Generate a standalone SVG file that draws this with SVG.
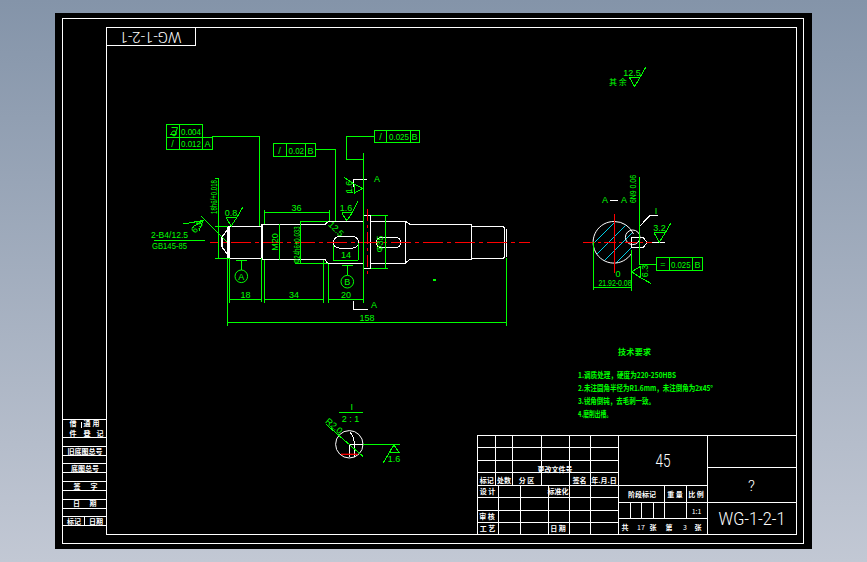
<svg xmlns="http://www.w3.org/2000/svg" width="867" height="562" viewBox="0 0 867 562">
<style>
text{font-family:"Liberation Sans","Noto Sans CJK SC",sans-serif}
.g{stroke:#00ff00;fill:none;stroke-width:1;shape-rendering:crispEdges}
.w{stroke:#fff;fill:none;stroke-width:1.2;shape-rendering:crispEdges}
.f{stroke:#fff;fill:none;stroke-width:1;shape-rendering:crispEdges}
.r{stroke:#ff0000;fill:none;stroke-width:1.5;stroke-dasharray:20 4 4 4;shape-rendering:crispEdges}
.h{stroke:#00e5ff;stroke-width:.9}
.t{fill:#00ff00;font-size:9px;text-anchor:middle}
.tl{fill:#00ff00;font-size:9px}
.c{fill:#00ff00;font-size:8px;font-family:"Noto Sans CJK SC",sans-serif;font-weight:700}
.k{fill:#fff;font-size:7px;font-family:"Noto Sans CJK SC",sans-serif;font-weight:700;text-anchor:middle}
.b{fill:#fff;font-family:Roboto,"Liberation Sans",sans-serif;font-weight:300;text-anchor:middle}
</style>
<defs>
<linearGradient id="bg" x1="0" y1="0" x2="0" y2="1"><stop offset="0" stop-color="#8494a9"/><stop offset="1" stop-color="#c2c8d4"/></linearGradient>
<clipPath id="sec"><path d="M614.3 221.5a20.8 20.8 0 1 0 0 41.6a20.8 20.8 0 0 0 17-9.5V247.7H631.3V237.3H633.5A20.8 20.8 0 0 0 614.3 221.5Z"/></clipPath>
</defs>
<rect width="867" height="562" fill="url(#bg)"/>
<rect x="55" y="13" width="757" height="536" fill="#000"/>

<g id="frame">
<rect class="f" x="62.5" y="18.5" width="741" height="525"/>
<rect class="f" x="106.5" y="27.5" width="689.5" height="506.5"/>
<rect class="f" x="106.5" y="27.5" width="89" height="17.5"/>
<text class="b" transform="rotate(180 150.5 36.5)" x="150.5" y="41.5" font-size="14" textLength="62" lengthAdjust="spacingAndGlyphs">WG-1-2-1</text>
</g>

<g id="side-table">
<path class="f" d="M62.5 419H106M62.5 437H106M62.5 446.7H106M62.5 455.7H106M62.5 463H106M62.5 472H106M62.5 481H106M62.5 490.7H106M62.5 499H106M62.5 508H106M62.5 516.7H106M62.5 525H106M84.3 516.7V525M81.5 421.5V428"/>
<text class="k" x="73" y="426">借</text><text class="k" x="87" y="426">通</text><text class="k" x="96" y="426">用</text>
<text class="k" x="73" y="436">件</text><text class="k" x="87" y="436">登</text><text class="k" x="100" y="436">记</text>
<text class="k" x="85" y="454">旧底图总号</text>
<text class="k" x="85" y="470.5">底图总号</text>
<text class="k" x="77" y="488.5">签</text><text class="k" x="94" y="488.5">字</text>
<text class="k" x="76.5" y="505.5">日</text><text class="k" x="93" y="505.5">期</text>
<text class="k" x="74" y="524">标记</text><text class="k" x="96" y="524">日期</text>
</g>

<g id="title-block">
<path class="f" d="M477.5 435.5H796V534H477.5ZM477.5 447.5H618.3M477.5 460.3H618.3M477.5 472.7H618.3M477.5 485.3H707.3M477.5 497.7H618.3M477.5 510H618.3M477.5 522.7H618.3M495.3 435.5V485.3M512.3 435.5V485.3M541.3 435.5V485.3M569.3 435.5V534M590.7 435.5V534M498.7 485.3V534M520.3 485.3V534M548.7 485.3V534M618.3 435.5V534M707.3 435.5V534M707.3 467H796M618.3 502H796M618.3 518.3H707.3M664.7 485.3V518.3M686 485.3V518.3M630.3 502V518.3M641.3 502V518.3M653.3 502V518.3"/>
<text class="k" x="486.7" y="483">标记</text><text class="k" x="504" y="483">处数</text><text class="k" x="526.5" y="483">分 区</text>
<text class="k" x="555" y="472">更改文件号</text><text class="k" x="579.5" y="483">签名</text><text class="k" x="604" y="483">年.月.日</text>
<text class="k" x="487.5" y="494">设 计</text><text class="k" x="558" y="494">标准化</text>
<text class="k" x="487" y="519">审 核</text><text class="k" x="487.5" y="531">工 艺</text><text class="k" x="558" y="531">日 期</text>
<text class="k" x="642" y="497">阶段标记</text><text class="k" x="675" y="497">重 量</text><text class="k" x="696" y="497">比 例</text>
<text class="k" x="696.5" y="514" style="font-weight:400">1:1</text>
<text class="k" x="625" y="530">共</text><text class="k" x="641" y="530" style="font-weight:400">17</text><text class="k" x="653" y="530">张</text><text class="k" x="669" y="530">第</text><text class="k" x="685" y="530" style="font-weight:400">3</text><text class="k" x="698" y="530">张</text>
<text class="b" x="663" y="467" font-size="18" textLength="15" lengthAdjust="spacingAndGlyphs">45</text>
<text class="b" x="751.5" y="491" font-size="15">?</text>
<text class="b" x="752" y="525" font-size="18" textLength="67" lengthAdjust="spacingAndGlyphs">WG-1-2-1</text>
</g>

<g id="shaft">
<path class="w" d="M229 226.3H262V258.3H229ZM229 226.3L227.3 228V256.5L229 258.3M262 224.3H325L328 221.3H363.3V263.5H328L325 259.7H262ZM363.3 215.3H370.7V268.3H363.3ZM370.7 221.3H405.3L410 224.3H471.7V259.3H410L405.3 263.3H370.7M405.3 221.3V263.3M471.7 226.3H503L504.7 228V256.5L503 258.3H471.7M506.3 229V257M227.3 230L222 237V247L227.3 254"/>
<path class="f" d="M339 236.7H353A5.6 5.6 0 0 1 353 248H339A5.6 5.6 0 0 1 339 236.7ZM381.5 237.3H395.5A5.2 5.2 0 0 1 395.5 247.7H381.5A5.2 5.2 0 0 1 381.5 237.3Z"/>
<path class="f" d="M353.3 186.7V179.3H366.7M353.3 301V309.3H367.7"/>
<path class="r" style="stroke-dashoffset:11.3" d="M210 242.3H530"/>
<path class="r" style="stroke-dasharray:12 4 3 4" d="M367.3 209V276"/>
<rect x="433" y="279" width="3" height="2" fill="#00ff00"/>
</g>

<g id="dimensions">
<path class="g" d="M166.3 124.3H202.3V137H212.3V149.3H166.3ZM166.3 137H202.3M179.3 124.3V149.3M202.3 137V149.3M212.3 136.7H259.3V226M273.3 143.3H315.7V156H273.3ZM286 143.3V156M305.7 143.3V156M315.7 149.3H335.3V221M374.3 130.3H419V142.3H374.3ZM386.7 130.3V142.3M410 130.3V142.3M374.3 136.3H346.3V159.3H363.3M363.3 153V302.7"/>
<path d="M170 134.5H176M171.5 127.5H177.5L175 134.5M174 131a2.4 2.4 0 1 0 .01 0" fill="none" stroke="#00ff00"/>
<path class="g" d="M154 240.3H205M200.7 216L227.3 242.3M183.3 224L203 220.5M192 227.5L203 220.5L199 231"/>
<path class="g" d="M215 178.3H218.3V258.3M215 226.3H228M215 258.3H229M229.3 258V302.7M261.3 258V301.7M229.3 299.3H261.3M264.3 210V224M329 210V221M264.3 212.7H329M279.3 224.3V259.7M300.7 221.7V263.3M300 221.7H328M295 263.3H328M264.3 260V303M323.7 260V303M264.3 299.3H323.7M328.3 264V302.7M328.3 299.3H363.3M333.3 245V260M358.3 243V260M333.3 260H358.3M227.3 258V325.7M506.3 258V325.7M227.3 322H506.3M385.3 215V268M370.7 215.3H388M370.7 268.3H388"/>
<circle cx="241.3" cy="276.3" r="6.3" fill="none" stroke="#00ff00"/><path class="g" d="M236 260.7H247.3M241.7 260.7V270"/>
<circle cx="347.3" cy="281.7" r="6.3" fill="none" stroke="#00ff00"/><path class="g" d="M342 265.3H353M347.5 265.3V275.4"/>
<path class="g" d="M226 217.7H236.7L231.3 226L226 217.7M236.7 217.7L242.7 207.3M341.7 212.7H352.3L346.7 220.7L341.7 212.7M352.3 212.7L357.7 201.3M344 177.3L354 184V193.3L362.7 188.3L354 184M346.5 192.7H353"/>
<text class="tl" x="181" y="134.5" textLength="20" lengthAdjust="spacingAndGlyphs">0.004</text>
<text class="t" x="172.5" y="147">/</text>
<text class="tl" x="181" y="147" textLength="20" lengthAdjust="spacingAndGlyphs">0.012</text>
<text class="t" x="207.5" y="147">A</text>
<text class="t" x="279.5" y="153.5">/</text>
<text class="tl" x="288.5" y="153.5" textLength="15.5" lengthAdjust="spacingAndGlyphs">0.02</text>
<text class="t" x="310.5" y="153.5">B</text>
<text class="t" x="380.5" y="140">/</text>
<text class="tl" x="389" y="140" textLength="20" lengthAdjust="spacingAndGlyphs">0.025</text>
<text class="t" x="414.5" y="140">B</text>
<text class="t" x="377" y="181.5">A</text>
<text class="t" x="374" y="308">A</text>
<text class="tl" x="151" y="238" textLength="37" lengthAdjust="spacingAndGlyphs">2-B4/12.5</text>
<text class="tl" x="152" y="249" textLength="35" lengthAdjust="spacingAndGlyphs">GB145-85</text>
<text class="t" transform="rotate(-50 197 227)" x="197" y="230" font-size="7">6.3</text>
<text class="t" transform="rotate(-90 213.5 197)" x="213.5" y="200" textLength="34" lengthAdjust="spacingAndGlyphs">18h6/+0.018</text>
<text class="t" x="231" y="216">0.8</text>
<text class="t" x="346" y="211">1.6</text>
<text class="t" transform="rotate(-90 349 187)" x="349" y="190">1.6</text>
<text class="t" x="296.5" y="210.5">36</text>
<text class="t" transform="rotate(-90 275 242)" x="275" y="245">M20</text>
<text class="t" transform="rotate(-90 297 245)" x="297" y="248" textLength="37" lengthAdjust="spacingAndGlyphs">Φ24h6+0.033</text>
<text class="t" transform="rotate(45 336 229)" x="336" y="232" font-size="7.5">12.5</text>
<text class="t" transform="rotate(-90 380 244)" x="380" y="247" font-size="8">Φ35</text>
<text class="t" x="245.5" y="298">18</text>
<text class="t" x="294" y="298">34</text>
<text class="t" x="346" y="298">20</text>
<text class="t" x="346" y="258">14</text>
<text class="t" x="367" y="320.5">158</text>
<text class="t" x="241.3" y="279.5" font-size="8">A</text>
<text class="t" x="347.3" y="285" font-size="8">B</text>
</g>

<g id="section-view">
<g clip-path="url(#sec)">
<path class="h" d="M583 240L606 217M583 254L620 217M583 268L634 217M590 275L648 217M604 275L648 231M618 275L648 245"/>
</g>
<path d="M614.3 221.5a20.8 20.8 0 1 0 17 32.2M614.3 221.5A20.8 20.8 0 0 1 633.5 234" fill="none" stroke="#fff"/>
<circle cx="632.7" cy="237.3" r="7.3" fill="none" stroke="#fff"/>
<path class="f" d="M631.3 237.3H643L647 242.5L643 247.7H631.3ZM647 242.3H665M639.3 226.7L650 215.3H658.3"/>
<path class="r" style="stroke-dasharray:12 3 3 3" d="M582.7 242.3H651.7"/>
<path class="r" style="stroke-dasharray:none" d="M614.3 214V273.3"/>
<path class="f" d="M610 200.3H618.3"/>
<path class="g" d="M639.3 177.3V264H656.7M656.7 257.7H702.7V270.3H656.7ZM669.3 257.7V270.3M692.3 257.7V270.3M654 232.7H665.3L659.3 242.3L654 232.7M665.3 232.7L670.7 223.3M593.3 242V290M631.7 250V291M593.3 287.7H631.7M631.7 271.7L640 266.7V277.3L631.7 271.7M640 277.3L650.7 283.3"/>
<text class="t" x="605" y="203">A</text><text class="t" x="624" y="203">A</text>
<text class="t" x="656" y="213.5">I</text>
<text class="t" x="618" y="277" font-size="8">0</text>
<text class="t" x="659.5" y="231">3.2</text>
<text class="t" x="663" y="267" font-size="11">=</text>
<text class="tl" x="671" y="267.5" textLength="19.5" lengthAdjust="spacingAndGlyphs">0.025</text>
<text class="t" x="697.5" y="267.5">B</text>
<text class="t" x="615" y="286" textLength="33" lengthAdjust="spacingAndGlyphs">21.92-0.08</text>
<text class="t" transform="rotate(-90 633 189)" x="633" y="192" textLength="28" lengthAdjust="spacingAndGlyphs">6N9 0.06</text>
<text class="t" transform="rotate(-90 645 271)" x="645" y="274">6.3</text>
</g>

<g id="roughness-note">
<path class="g" d="M629.3 77.3H640L634.7 86.7L629.3 77.3M640 77.3L645.7 67.3"/>
<text class="t" x="632" y="76">12.5</text>
<text class="c" x="609" y="85" style="font-weight:400">其 余</text>
</g>

<g id="detail-view">
<text class="t" x="351.7" y="410">I</text>
<path class="g" d="M339.3 412.3H362.7"/>
<text class="t" x="350.5" y="422">2 : 1</text>
<circle cx="349.3" cy="444.3" r="13.7" fill="none" stroke="#fff"/>
<path class="f" d="M349.5 431.7Q354 436 354.5 444.3V457M349.3 444.3H363M349.5 444.3V457"/>
<path class="g" d="M325.7 424L363.3 456.7M363 444H400M394 445L389 452.7H399.3L394 445L383.3 462.7"/>
<path d="M341 454.3H357.7" stroke="#f00" stroke-width="1.3"/>
<text class="t" transform="rotate(40 334 426)" x="334" y="429" font-size="8">R2.0</text>
<text class="t" x="394" y="462">1.6</text>
</g>

<g id="technical-notes">
<text class="c" x="618" y="355" textLength="33" lengthAdjust="spacing">技术要求</text>
<text class="c" x="578" y="378" textLength="98" lengthAdjust="spacingAndGlyphs">1.调质处理，硬度为220-250HBS</text>
<text class="c" x="578" y="391" textLength="135" lengthAdjust="spacingAndGlyphs">2.未注圆角半径为R1.6mm，未注倒角为2x45°</text>
<text class="c" x="578" y="404" textLength="77" lengthAdjust="spacingAndGlyphs">3.锐角倒钝，去毛刺一致。</text>
<text class="c" x="578" y="417" textLength="34" lengthAdjust="spacingAndGlyphs">4.磨削出槽。</text>
</g>
</svg>
